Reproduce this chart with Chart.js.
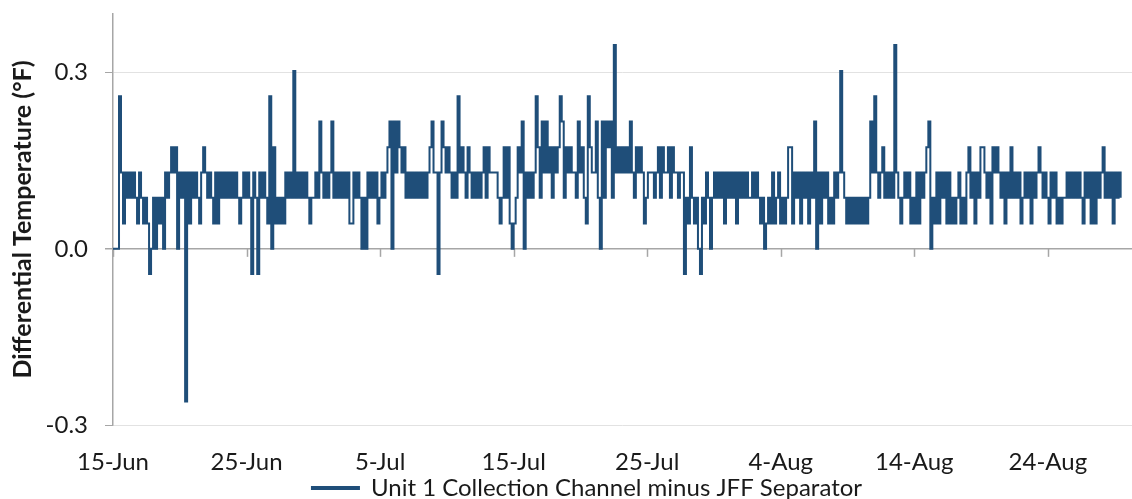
<!DOCTYPE html>
<html>
<head>
<meta charset="utf-8">
<script src="https://cdn.jsdelivr.net/npm/chart.js@4"></script>
<style>
  html, body { margin: 0; padding: 0; background: #fff; }
  #wrap { position: relative; width: 1132px; height: 499px; }
</style>
</head>
<body>
<div id="wrap"><canvas id="chart-diff-temp"></canvas></div>
<script>
// Differential temperature (°F), one reading every 0.15 day starting 15-Jun
const sampleStepDays = 0.15;
const diffTempF = [
  0, 0, 0, 0.26, 0.13, 0.043, 0.13, 0.087, 0.13, 0.087,
  0.13, 0.087, 0.043, 0.13, 0.087, 0.043, 0.087, 0.043, -0.043, 0,
  0.087, 0, 0.087, 0.043, 0.087, 0, 0.13, 0.087, 0.13, 0.173,
  0.13, 0.173, 0, 0.13, 0.087, 0.13, -0.26, 0.13, 0.043, 0.13,
  0.087, 0.13, 0.087, 0.043, 0.13, 0.173, 0.13, 0.087, 0.13, 0.087,
  0.043, 0.13, 0.043, 0.13, 0.087, 0.13, 0.087, 0.13, 0.087, 0.13,
  0.087, 0.13, 0.087, 0.043, 0.087, 0.13, 0.087, 0.13, 0.087, -0.043,
  0.13, 0.087, -0.043, 0.13, 0.087, 0.13, 0.087, 0.043, 0.26, 0,
  0.173, 0.043, 0.087, 0.043, 0.087, 0.043, 0.13, 0.087, 0.13, 0.087,
  0.303, 0.087, 0.13, 0.087, 0.13, 0.087, 0.13, 0.087, 0.043, 0.087,
  0.087, 0.13, 0.087, 0.217, 0.13, 0.087, 0.13, 0.087, 0.13, 0.217,
  0.087, 0.13, 0.087, 0.13, 0.087, 0.13, 0.087, 0.13, 0.043, 0.043,
  0.13, 0.087, 0.13, 0.087, 0, 0.087, 0, 0.13, 0.087, 0.13,
  0.087, 0.13, 0.043, 0.087, 0.13, 0.087, 0.13, 0.173, 0.217, 0,
  0.217, 0.13, 0.217, 0.173, 0.13, 0.173, 0.087, 0.13, 0.087, 0.13,
  0.087, 0.13, 0.087, 0.13, 0.087, 0.13, 0.087, 0.13, 0.173, 0.217,
  0.13, 0.13, -0.043, 0.13, 0.217, 0.173, 0.13, 0.173, 0.13, 0.087,
  0.13, 0.087, 0.26, 0.13, 0.173, 0.13, 0.087, 0.173, 0.13, 0.087,
  0.13, 0.087, 0.13, 0.087, 0.13, 0.173, 0.087, 0.173, 0.13, 0.13,
  0.13, 0.13, 0.087, 0.043, 0.087, 0.173, 0.087, 0.173, 0.043, 0,
  0.043, 0.087, 0.173, 0.13, 0.217, 0, 0.13, 0.087, 0.13, 0.087,
  0.13, 0.26, 0.173, 0.087, 0.217, 0.13, 0.217, 0.13, 0.173, 0.087,
  0.173, 0.13, 0.173, 0.26, 0.217, 0.087, 0.173, 0.13, 0.173, 0.13,
  0.13, 0.087, 0.217, 0.13, 0.173, 0.087, 0.043, 0.26, 0.173, 0.13,
  0.13, 0.217, 0.087, 0, 0.217, 0.087, 0.217, 0.173, 0.217, 0.087,
  0.347, 0.13, 0.173, 0.13, 0.173, 0.13, 0.173, 0.13, 0.217, 0.13,
  0.087, 0.173, 0.13, 0.173, 0.13, 0.043, 0.087, 0.13, 0.13, 0.13,
  0.087, 0.13, 0.173, 0.087, 0.173, 0.13, 0.13, 0.173, 0.087, 0.173,
  0.13, 0.13, 0.087, 0.13, 0.13, -0.043, 0.087, 0.043, 0.173, 0.087,
  0.043, 0.087, 0, -0.043, 0.087, 0.043, 0.13, 0.087, 0, 0.087,
  0.13, 0.087, 0.13, 0.087, 0.13, 0.043, 0.13, 0.087, 0.13, 0.087,
  0.13, 0.043, 0.13, 0.087, 0.13, 0.087, 0.13, 0.087, 0.087, 0.13,
  0.087, 0.13, 0.087, 0.043, 0.087, 0, 0.043, 0.087, 0.043, 0.13,
  0.043, 0.087, 0.13, 0.043, 0.087, 0.043, 0.087, 0.173, 0.173, 0.043,
  0.13, 0.087, 0.13, 0.043, 0.13, 0.087, 0.13, 0.043, 0.13, 0.087,
  0.217, 0, 0.13, 0.043, 0.13, 0.087, 0.13, 0.043, 0.087, 0.043,
  0.13, 0.087, 0.13, 0.303, 0.13, 0.087, 0.043, 0.087, 0.043, 0.087,
  0.043, 0.087, 0.043, 0.087, 0.043, 0.087, 0.043, 0.087, 0.217, 0.13,
  0.26, 0.13, 0.087, 0.13, 0.173, 0.087, 0.13, 0.087, 0.13, 0.087,
  0.347, 0.13, 0.087, 0.043, 0.087, 0.13, 0.087, 0.13, 0.043, 0.087,
  0.043, 0.13, 0.043, 0.13, 0.087, 0.13, 0.173, 0.217, 0, 0.087,
  0.043, 0.13, 0.043, 0.13, 0.087, 0.13, 0.043, 0.13, 0.043, 0.087,
  0.043, 0.087, 0.13, 0.043, 0.087, 0.043, 0.13, 0.173, 0.087, 0.13,
  0.043, 0.13, 0.087, 0.173, 0.173, 0.13, 0.087, 0.13, 0.043, 0.173,
  0.13, 0.173, 0.13, 0.087, 0.13, 0.043, 0.13, 0.087, 0.173, 0.087,
  0.13, 0.087, 0.13, 0.043, 0.087, 0.13, 0.087, 0.13, 0.043, 0.13,
  0.087, 0.13, 0.173, 0.13, 0.087, 0.13, 0.087, 0.043, 0.13, 0.087,
  0.13, 0.043, 0.087, 0.043, 0.087, 0.087, 0.13, 0.087, 0.13, 0.087,
  0.13, 0.087, 0.13, 0.087, 0.043, 0.13, 0.087, 0.13, 0.043, 0.13,
  0.043, 0.13, 0.087, 0.13, 0.173, 0.087, 0.13, 0.087, 0.13, 0.043,
  0.13, 0.087, 0.13, 0.087
];

// axis ticks
const xTickDays = [0, 10, 20, 30, 40, 50, 60, 70];
const xTickLabels = ['15-Jun', '25-Jun', '5-Jul', '15-Jul', '25-Jul', '4-Aug', '14-Aug', '24-Aug'];
const yTickValues = [-0.3, 0, 0.3];

const seriesName = 'Unit 1 Collection Channel minus JFF Separator';
const lineColor = '#1f4e79';
const axisGray = '#a6a6a6';

Chart.defaults.font.family = 'Lato, "Open Sans", sans-serif';
Chart.defaults.color = '#1a1a1a';

// small tick marks hanging off the zero line, like the original
const zeroAxisTicks = {
    id: 'zeroAxisTicks',
    beforeDatasetsDraw(chart) {
        const x = chart.scales.x;
        const y0 = chart.scales.y.getPixelForValue(0);
        const ctx = chart.ctx;
        ctx.save();
        ctx.strokeStyle = axisGray;
        ctx.lineWidth = 1.5;
        x.ticks.forEach(t => {
            const px = Math.round(x.getPixelForValue(t.value)) + 0.5;
            ctx.beginPath();
            ctx.moveTo(px, y0);
            ctx.lineTo(px, y0 + 8);
            ctx.stroke();
        });
        ctx.restore();
    }
};

const points = diffTempF.map((v, i) => ({ x: i * sampleStepDays, y: v }));

new Chart(document.getElementById('chart-diff-temp'), {
    type: 'line',
    data: {
        datasets: [{
            label: seriesName,
            data: points,
            borderColor: lineColor,
            backgroundColor: lineColor,
            borderWidth: 2,
            pointRadius: 0,
            stepped: true,
            fill: false
        }]
    },
    options: {
        responsive: true,
        maintainAspectRatio: false,
        animation: false,
        layout: { padding: { left: 42, right: 0, top: 14, bottom: -11 } },
        plugins: {
            legend: {
                position: 'bottom',
                labels: {
                    boxWidth: 47,
                    boxHeight: 2,
                    padding: 0,
                    color: '#1a1a1a',
                    font: { size: 24 }
                }
            },
            tooltip: { enabled: false }
        },
        scales: {
            x: {
                type: 'linear',
                min: 0,
                max: 76.3,
                afterBuildTicks: scale => { scale.ticks = xTickDays.map(v => ({ value: v })); },
                afterFit: scale => { scale.height = 51; },
                grid: { display: false },
                border: { display: false },
                ticks: {
                    padding: 15,
                    maxRotation: 0,
                    font: { size: 24 },
                    callback: (v, i) => xTickLabels[i]
                }
            },
            y: {
                min: -0.3,
                max: 0.4,
                afterBuildTicks: scale => { scale.ticks = yTickValues.map(v => ({ value: v })); },
                afterFit: scale => {
                    scale.width = 71;
                    scale.paddingTop = 0;
                    scale.paddingBottom = 0;
                },
                border: { display: true, color: axisGray, width: 1.5 },
                grid: {
                    color: c => (c.tick && c.tick.value === 0 ? axisGray : '#e2e2e2'),
                    lineWidth: c => (c.tick && c.tick.value === 0 ? 1.5 : 1),
                    tickColor: axisGray,
                    tickLength: 8
                },
                ticks: {
                    padding: 17,
                    font: { size: 24 },
                    callback: v => v.toFixed(1)
                },
                title: {
                    display: true,
                    text: 'Differential Temperature (°F)',
                    font: { size: 25, weight: 'bold' },
                    padding: { top: -34, bottom: 0 }
                }
            }
        }
    },
    plugins: [zeroAxisTicks]
});
</script>
</body>
</html>
